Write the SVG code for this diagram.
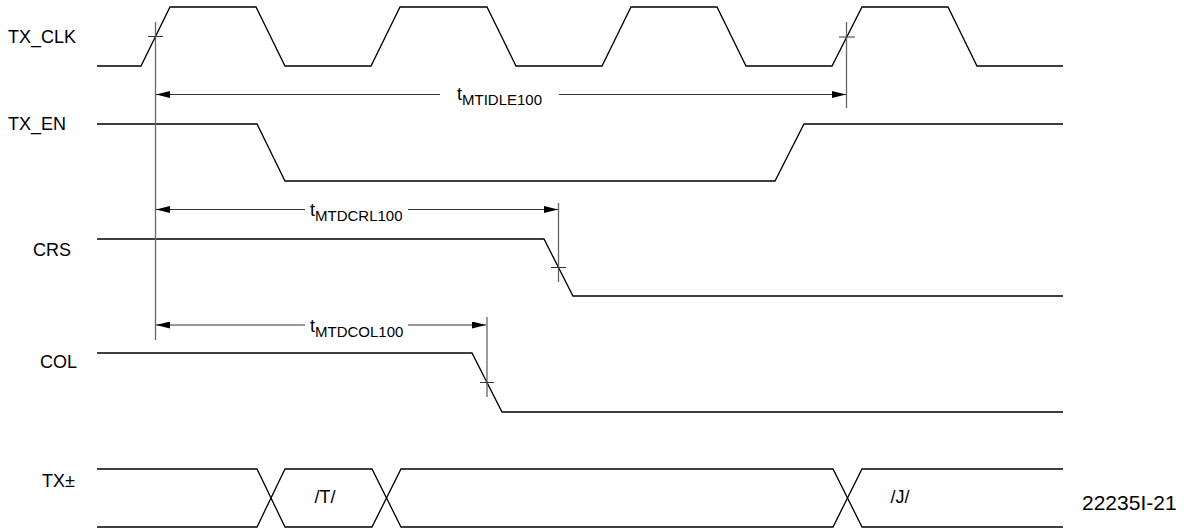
<svg xmlns="http://www.w3.org/2000/svg" width="1194" height="529" viewBox="0 0 1194 529">
<defs>
<style>
.sig{fill:none;stroke:#000;stroke-width:1.3}
.ref{fill:none;stroke:#666;stroke-width:1.3}
.tick{fill:none;stroke:#333;stroke-width:1}
.dim{fill:none;stroke:#333;stroke-width:1}
.lbl{font-family:"Liberation Sans",Arial,sans-serif;font-size:18px;fill:#000}
.sub{font-size:15px}
</style>
<marker id="arr" viewBox="0 0 14 7" refX="14" refY="3.5" markerWidth="14" markerHeight="7" markerUnits="userSpaceOnUse" orient="auto-start-reverse">
<path d="M0,0 L14,3.5 L0,7 z" fill="#000"/>
</marker>
</defs>
<rect width="1194" height="529" fill="#fff"/>
<g id="tx_clk">
<text class="lbl" x="8" y="43">TX_CLK</text>
<path class="sig" d="M97,66 H141 L170,7 H256 L285,66 H371 L400,7 H487 L516,66 H602 L631,7 H717 L746,66 H832 L862,7 H948 L977,66 H1063"/>
</g>
<g id="tx_en">
<text class="lbl" x="8" y="130">TX_EN</text>
<path class="sig" d="M97,124 H257 L285,181 H775 L804,124 H1063"/>
</g>
<g id="crs">
<text class="lbl" x="33" y="256">CRS</text>
<path class="sig" d="M97,239 H544 L573,296 H1063"/>
</g>
<g id="col">
<text class="lbl" x="40" y="368">COL</text>
<path class="sig" d="M97,353 H472 L502,412 H1063"/>
</g>
<g id="tx_pm">
<text class="lbl" x="42" y="487">TX±</text>
<path class="sig" d="M97,469 H257 L285,527 H372 L401,469 H833 L862,527 H1063"/>
<path class="sig" d="M97,527 H257 L285,469 H372 L401,527 H833 L862,469 H1063"/>
<text class="lbl" x="325" y="503" text-anchor="middle">/T/</text>
<text class="lbl" x="900" y="503" text-anchor="middle">/J/</text>
</g>
<g id="connectors">
<path class="ref" d="M155.5,22 V340"/>
<path class="tick" d="M148,36.5 H163"/>
<path class="ref" d="M846.5,22 V108"/>
<path class="tick" d="M839,37 H855"/>
<path class="ref" d="M558.5,203 V282"/>
<path class="tick" d="M551,267.5 H566"/>
<path class="ref" d="M487,317 V397"/>
<path class="tick" d="M480,382.5 H494"/>
<line class="dim" x1="156" y1="94.5" x2="440" y2="94.5" marker-start="url(#arr)"/>
<line class="dim" x1="559" y1="94.5" x2="846" y2="94.5" marker-end="url(#arr)"/>
<line class="dim" x1="156" y1="209.5" x2="305" y2="209.5" marker-start="url(#arr)"/>
<line class="dim" x1="408" y1="209.5" x2="558" y2="209.5" marker-end="url(#arr)"/>
<line class="dim" x1="156" y1="325" x2="305" y2="325" marker-start="url(#arr)"/>
<line class="dim" x1="408" y1="325" x2="486" y2="325" marker-end="url(#arr)"/>
</g>
<g id="labels">
<text class="lbl" x="457" y="100">t<tspan class="sub" dy="5">MTIDLE100</tspan></text>
<text class="lbl" x="310" y="216">t<tspan class="sub" dy="5">MTDCRL100</tspan></text>
<text class="lbl" x="310" y="332">t<tspan class="sub" dy="5">MTDCOL100</tspan></text>
<text class="lbl" x="1082" y="510" style="font-size:21px">22235I-21</text>
</g>
</svg>
